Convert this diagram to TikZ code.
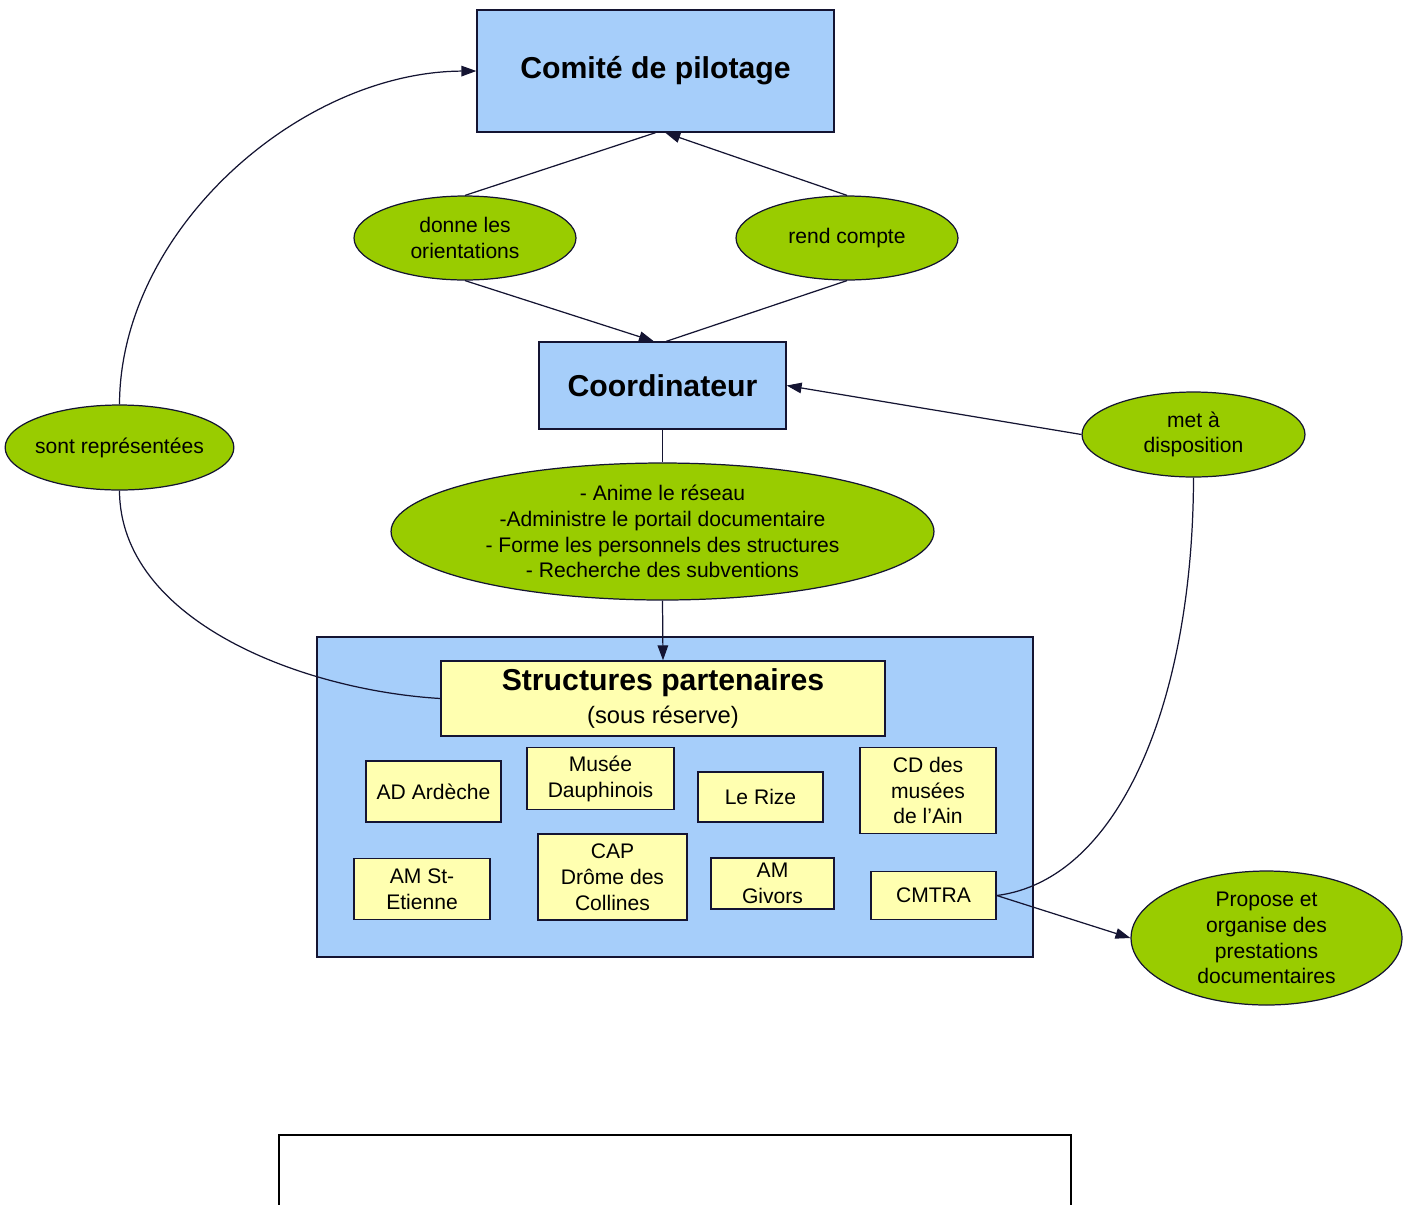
\documentclass[tikz,border=0pt]{standalone}
\usepackage{fontspec}
\setmainfont{Liberation Sans}
\usepackage{tikz}
\usepackage{xcolor}
\usetikzlibrary{positioning}
\usetikzlibrary{shapes.geometric}
\usetikzlibrary{arrows.meta}
\definecolor{bleu}{RGB}{166,206,250}
\definecolor{jaune}{RGB}{255,255,176}
\definecolor{vert}{RGB}{153,204,0}
\definecolor{trait}{RGB}{20,20,50}
\newcommand{\petit}{\fontsize{12}{14.7}\selectfont}
\newcommand{\gros}{\fontsize{17.2}{20}\selectfont\bfseries}

\begin{document}
\begin{tikzpicture}[x=0.02cm, y=-0.02cm,
		>={Triangle[length=8.5pt,width=6pt]},
		bloc/.style={draw=trait, line width=0.8pt, fill=bleu, inner sep=0pt, font=\gros},
		case/.style={draw=trait, line width=0.8pt, fill=jaune, inner sep=0pt, align=center, font=\petit},
		bulle/.style={ellipse, draw=trait, line width=0.7pt, fill=vert, inner sep=-2pt, align=center, font=\petit},
		lien/.style={draw=trait, line width=0.7pt}]
				\useasboundingbox (0,0) rectangle (1412,1204);
				
				% haut du schema
				\node[bloc, minimum width=7.14cm, minimum height=2.44cm] (comite) at (655.5,71) {Comité de pilotage};
				\node[bulle, minimum width=4.44cm, minimum height=1.68cm] (donne) at (465,238) {donne les\\orientations};
				\node[bulle, minimum width=4.44cm, minimum height=1.68cm] (rend) at (847,238) {rend compte};
				\node[bloc, minimum width=4.94cm, minimum height=1.74cm] (coord) at (662.5,385.5) {Coordinateur};
				
				\node[bulle, minimum width=4.46cm, minimum height=1.7cm] (sont) at (119.5,447.5) {sont représentées};
				\node[bulle, minimum width=4.46cm, minimum height=1.7cm] (met) at (1193.5,434.5) {met à\\disposition};
				\node[bulle, minimum width=10.86cm, minimum height=2.74cm] (missions) at (662.5,531.5) {- Anime le réseau\\-Administre le portail documentaire\\- Forme les personnels des structures\\- Recherche des subventions};
				
				% structures
				\node[bloc, minimum width=14.32cm, minimum height=6.4cm] (reseau) at (675,797) {};
				\node[case, minimum width=8.88cm, minimum height=1.5cm] (struct) at (663,698.5) {{\gros Structures partenaires}\\[4pt]{\fontsize{13.5}{16}\selectfont (sous réserve)}};
				\node[case, minimum width=2.7cm, minimum height=1.22cm] (ardeche) at (433.5,791.5) {AD Ardèche};
				\node[case, minimum width=2.94cm, minimum height=1.24cm] (musee) at (600.5,778.5) {Musée\\Dauphinois};
				\node[case, minimum width=2.5cm, minimum height=1cm] (rize) at (760.5,797) {Le Rize};
				\node[case, minimum width=2.72cm, minimum height=1.72cm] (ain) at (928,790.5) {CD des\\musées\\de l'Ain};
				\node[case, minimum width=2.72cm, minimum height=1.22cm] (etienne) at (422,889) {AM St-\\Etienne};
				\node[case, minimum width=2.98cm, minimum height=1.72cm] (cap) at (612.5,877) {CAP\\Drôme des\\Collines};
				\node[case, minimum width=2.46cm, minimum height=1.02cm] (givors) at (772.5,883.5) {AM\\Givors};
				\node[case, minimum width=2.5cm, minimum height=0.96cm] (cmtra) at (933.5,895.5) {CMTRA};
				
				\node[bulle, minimum width=5.42cm, minimum height=2.68cm] (propose) at (1266.5,938) {Propose et\\organise des\\prestations\\documentaires};
				
				% cadre vide en bas
				\node[draw=black, line width=1.1pt, minimum width=15.84cm, minimum height=2cm, inner sep=0pt] (cadre) at (675,1185) {};
				
				\draw[lien] (comite.south) to (donne.north);
				\draw[lien,->] (donne.south) to (coord.101);
				\draw[lien] (coord.85) to (rend.south);
				\draw[lien,->] (rend.north) to (comite.-81);
				\draw[lien] (coord.south) to (missions.north);
				\draw[lien,->] (missions.south) to (struct.north);
				\draw[lien,->] (sont.north) .. controls (120,230) and (300,72) .. (comite.west);
				\draw[lien] (sont.south) .. controls (120,620) and (300,690) .. (struct.west);
				\draw[lien,->] (met.west) to (coord.east);
				\draw[lien] (met.south) .. controls (1193,700) and (1120,880) .. (cmtra.east);
				\draw[lien,->] (cmtra.east) to (propose.west);
				
			\end{tikzpicture}
\end{document}
